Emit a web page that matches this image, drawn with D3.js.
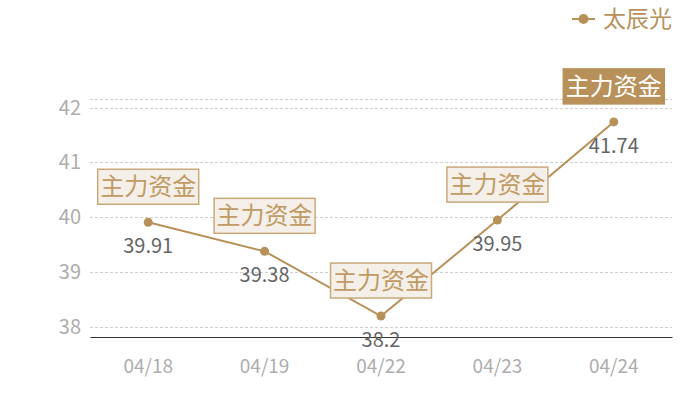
<!DOCTYPE html>
<html><head><meta charset="utf-8">
<script src="https://cdn.jsdelivr.net/npm/d3@7"></script>
<style>body{margin:0;background:#fff}svg{display:block}text{font-family:"Noto Sans CJK SC","Noto Sans",sans-serif}</style>
</head><body><svg id="c" width="700" height="400"></svg>
<script>
const categories = ["04/18","04/19","04/22","04/23","04/24"];
const values = [39.91, 39.38, 38.2, 39.95, 41.74];
const yTicks = [38, 39, 40, 41, 42];
const seriesName = "太辰光";
const annotation = "主力资金";
const highlightIndex = 4;

const color = "#b8915a";
const svg = d3.select("#c");
const W = 700, H = 400;
const m = {left: 90, right: 28, top: 99, bottom: 63};
const yMin = d3.min(values) * 0.99, yMax = d3.max(values) * 1.01;
const x = d3.scaleBand().domain(categories).range([m.left, W - m.right]);
const y = d3.scaleLinear().domain([yMin, yMax]).range([H - m.bottom, m.top]);

// grid
const grid = svg.append("g");
grid.selectAll("line.g").data(yTicks.concat([yMax])).join("line")
  .attr("x1", m.left).attr("x2", W - m.right)
  .attr("y1", d => Math.round(y(d)) + 0.5).attr("y2", d => Math.round(y(d)) + 0.5)
  .attr("stroke", "#d0d0d0").attr("stroke-dasharray", "3,2").attr("stroke-width", 1);

// y axis labels
const yAxis = d3.axisLeft(y).tickValues(yTicks).tickSize(0).tickPadding(9).tickFormat(d3.format("d"));
const ya = svg.append("g").attr("transform", `translate(${m.left},0)`).call(yAxis);
ya.select(".domain").remove();
ya.selectAll("text").attr("fill", "#adadad").style("font-size", "20px").style("font-family", '"Noto Sans CJK SC","Noto Sans",sans-serif');

// x axis
const xAxis = d3.axisBottom(x).tickSize(0).tickPadding(23);
const xa = svg.append("g").attr("transform", `translate(0,${H - m.bottom})`).call(xAxis);
xa.select(".domain").attr("stroke", "#333").attr("stroke-width", 1.2);
xa.selectAll("text").attr("fill", "#adadad").style("font-size", "19px").style("font-family", '"Noto Sans CJK SC","Noto Sans",sans-serif');

const cx = d => x(d) + x.bandwidth() / 2;
const pts = categories.map((c, i) => ({c, v: values[i], i}));

// line
svg.append("path").datum(pts)
  .attr("d", d3.line().x(d => cx(d.c)).y(d => y(d.v)))
  .attr("fill", "none").attr("stroke", color).attr("stroke-width", 2);

// annotation boxes
const boxW = 101, boxH = 35, gap = 18;
const ann = svg.append("g").selectAll("g").data(pts).join("g")
  .attr("transform", d => `translate(${cx(d.c)},${y(d.v) - gap - boxH / 2})`);
ann.append("rect")
  .attr("x", -boxW / 2).attr("y", -boxH / 2).attr("width", boxW).attr("height", boxH)
  .attr("fill", d => d.i === highlightIndex ? color : "#f4efe8")
  .attr("stroke", d => d.i === highlightIndex ? color : "#c9a97a").attr("stroke-width", 1.5);
ann.append("text").text(annotation)
  .attr("text-anchor", "middle").attr("dy", "0.36em")
  .attr("fill", d => d.i === highlightIndex ? "#fff" : "#c09a63")
  .style("font-size", "24px");

// points
svg.append("g").selectAll("circle").data(pts).join("circle")
  .attr("cx", d => cx(d.c)).attr("cy", d => y(d.v)).attr("r", 4.5).attr("fill", color);

// value labels
svg.append("g").selectAll("text").data(pts).join("text")
  .attr("x", d => cx(d.c)).attr("y", d => y(d.v) + 31)
  .attr("text-anchor", "middle").attr("fill", "#666")
  .style("font-size", "20px").text(d => d.v);

// legend
const lg = svg.append("g").attr("transform", "translate(572,19)");
lg.append("line").attr("x1", 0).attr("x2", 23).attr("stroke", color).attr("stroke-width", 2);
lg.append("circle").attr("cx", 11.5).attr("r", 5).attr("fill", color);
lg.append("text").attr("x", 31).attr("dy", "0.36em").attr("fill", color).style("font-size", "23px").text(seriesName);
</script></body></html>
